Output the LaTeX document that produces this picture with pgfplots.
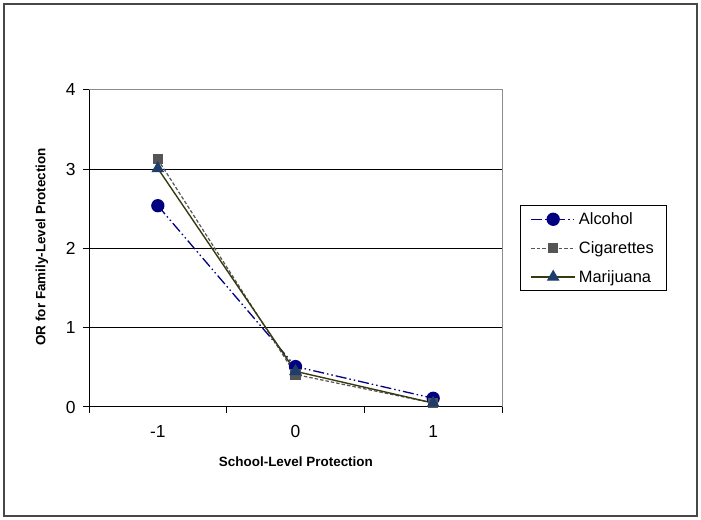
\documentclass[border=0pt]{standalone}
\usepackage{fontspec}
\setmainfont{Liberation Sans}
\usepackage{pgfplots}
\pgfplotsset{compat=1.18}
\definecolor{alc}{HTML}{000080}
\definecolor{cig}{HTML}{555555}
\definecolor{marl}{HTML}{3A3A12}
\definecolor{marm}{HTML}{1F3D6B}
\begin{document}
\begin{tikzpicture}
\path[use as bounding box] (0bp,0bp) rectangle (701bp,520bp);
\draw[line width=1.3bp, color=black!72] (4bp,4bp) rectangle (697bp,516bp);
\begin{axis}[
  at={(89bp,113bp)}, anchor=south west,
  scale only axis, width=413bp, height=317bp,
  xmin=-1.5, xmax=1.5, ymin=0, ymax=4,
  clip=false,
  axis x line*=bottom, axis y line*=left,
  axis line style={black, line width=1bp, -},
  xtick={-1.5,-0.5,0.5,1.5}, xticklabels={},
  extra x ticks={-1,0,1}, extra x tick labels={-1,0,1},
  extra x tick style={major tick length=0pt, grid=none},
  xtick align=outside, ytick align=outside,
  major tick length=6bp,
  tick style={black, line width=1bp},
  ytick={0,1,2,3,4},
  ymajorgrids, grid style={black, line width=1bp},
  /pgf/number format/assume math mode=true,
  tick label style={font=\fontsize{17.5}{20}\selectfont},
  xticklabel style={yshift=-15bp},
  yticklabel style={xshift=-4bp},
  xlabel={\textbf{School-Level Protection}},
  ylabel={\textbf{OR for Family-Level Protection}},
  label style={font=\fontsize{13.5}{16}\selectfont},
  x label style={at={(rel axis cs:0.501,-0.174)}, anchor=center},
  y label style={at={(rel axis cs:-0.114,0.505)}, anchor=center},
  legend style={at={(rel axis cs:1.0436,0.637)}, anchor=north west,
    draw=black, line width=1bp, font=\fontsize{16.5}{19}\selectfont,
    row sep=11.5bp, inner xsep=10bp, inner ysep=5bp,
    nodes={inner xsep=3bp}},
  legend cell align=left,
  legend image code/.code={\draw[#1] (0bp,0bp) -- (44bp,0bp); \draw[#1, only marks] plot coordinates {(22bp,0bp)};},
]
\addplot[alc, line width=1.3bp, dash pattern=on 11bp off 3bp on 1.5bp off 3bp on 1.5bp off 3bp,
  mark=*, mark size=6bp, mark options={solid, fill=alc, draw=alc}]
  coordinates {(-1,2.54) (0,0.51) (1,0.11)};
\addlegendentry{Alcohol}
\addplot[cig, line width=1.2bp, dash pattern=on 3.5bp off 2bp,
  mark=square*, mark size=4.5bp, mark options={solid, fill=cig, draw=cig}]
  coordinates {(-1,3.125) (0,0.41) (1,0.05)};
\addlegendentry{Cigarettes}
\addplot[marl, line width=1.4bp, solid,
  mark=triangle*, mark size=6bp, mark options={solid, fill=marm, draw=marm}]
  coordinates {(-1,3.01) (0,0.45) (1,0.05)};
\addlegendentry{Marijuana}
\draw[black!45, line width=1bp] (rel axis cs:0,1) -- (rel axis cs:1,1) -- (rel axis cs:1,0);
\end{axis}
\end{tikzpicture}
\end{document}
